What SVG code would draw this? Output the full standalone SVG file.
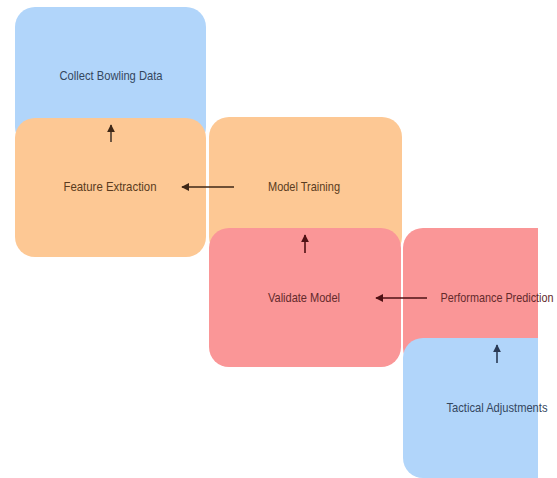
<svg xmlns="http://www.w3.org/2000/svg" width="557" height="478" viewBox="0 0 557 478">
<style>
.box{stroke:none}
.blue{fill:#b1d5fa}
.orange{fill:#fdc894}
.red{fill:#fa9697}
.lbl{font-family:"Liberation Sans","DejaVu Sans",sans-serif;font-size:13px;text-anchor:middle;dominant-baseline:central}
.tb{fill:#34475e}
.to{fill:#5a3c20}
.tr{fill:#642a2c}
.edge{stroke-width:1.6;fill:none}
</style>
<defs>
<clipPath id="page"><rect x="0" y="0" width="538" height="478"/></clipPath>
<marker id="ah" viewBox="0 0 10 10" refX="9" refY="5" markerWidth="5" markerHeight="5" orient="auto" markerUnits="strokeWidth"><path d="M0,0 L10,5 L0,10 z" fill="context-stroke"/></marker>
<marker id="ahB" viewBox="0 0 10 10" refX="9" refY="5" markerWidth="5" markerHeight="5" orient="auto"><path d="M0,0 L10,5 L0,10 z" fill="#2a3a55"/></marker>
<marker id="ahO" viewBox="0 0 10 10" refX="9" refY="5" markerWidth="5" markerHeight="5" orient="auto"><path d="M0,0 L10,5 L0,10 z" fill="#3e2716"/></marker>
<marker id="ahR" viewBox="0 0 10 10" refX="9" refY="5" markerWidth="5" markerHeight="5" orient="auto"><path d="M0,0 L10,5 L0,10 z" fill="#4e1114"/></marker>
</defs>
<g clip-path="url(#page)">
<g id="collect"><rect class="box blue" x="15" y="7" width="191" height="140" rx="20"/></g>
<g id="feature"><rect class="box orange" x="15" y="118" width="191" height="139" rx="20"/></g>
<g id="model"><rect class="box orange" x="209" y="117" width="193" height="140" rx="20"/></g>
<g id="validate"><rect class="box red" x="209" y="228" width="192" height="139" rx="20"/></g>
<g id="performance"><rect class="box red" x="403" y="228" width="192" height="140" rx="20"/></g>
<g id="tactical"><rect class="box blue" x="403" y="338" width="192" height="140" rx="20"/></g>
</g>
<g id="labels">
<text class="lbl tb" x="111" y="75" textLength="103" lengthAdjust="spacingAndGlyphs">Collect Bowling Data</text>
<text class="lbl to" x="110" y="186" textLength="93" lengthAdjust="spacingAndGlyphs">Feature Extraction</text>
<text class="lbl to" x="304" y="186" textLength="72" lengthAdjust="spacingAndGlyphs">Model Training</text>
<text class="lbl tr" x="304" y="297" textLength="72" lengthAdjust="spacingAndGlyphs">Validate Model</text>
<text class="lbl tr" x="497" y="297" textLength="113" lengthAdjust="spacingAndGlyphs">Performance Prediction</text>
<text class="lbl tb" x="497" y="407" textLength="101" lengthAdjust="spacingAndGlyphs">Tactical Adjustments</text>
</g>
<g id="connectors">
<line class="edge" x1="111" y1="142" x2="111" y2="125" stroke="#4a3a2e" marker-end="url(#ahO)"/>
<line class="edge" x1="234" y1="187" x2="182" y2="187" stroke="#3e2716" marker-end="url(#ahO)"/>
<line class="edge" x1="305" y1="253" x2="305" y2="235" stroke="#4e1114" marker-end="url(#ahR)"/>
<line class="edge" x1="427" y1="298" x2="376" y2="298" stroke="#4e1114" marker-end="url(#ahR)"/>
<line class="edge" x1="497" y1="363" x2="497" y2="345" stroke="#2a3a55" marker-end="url(#ahB)"/>
</g>
</svg>
